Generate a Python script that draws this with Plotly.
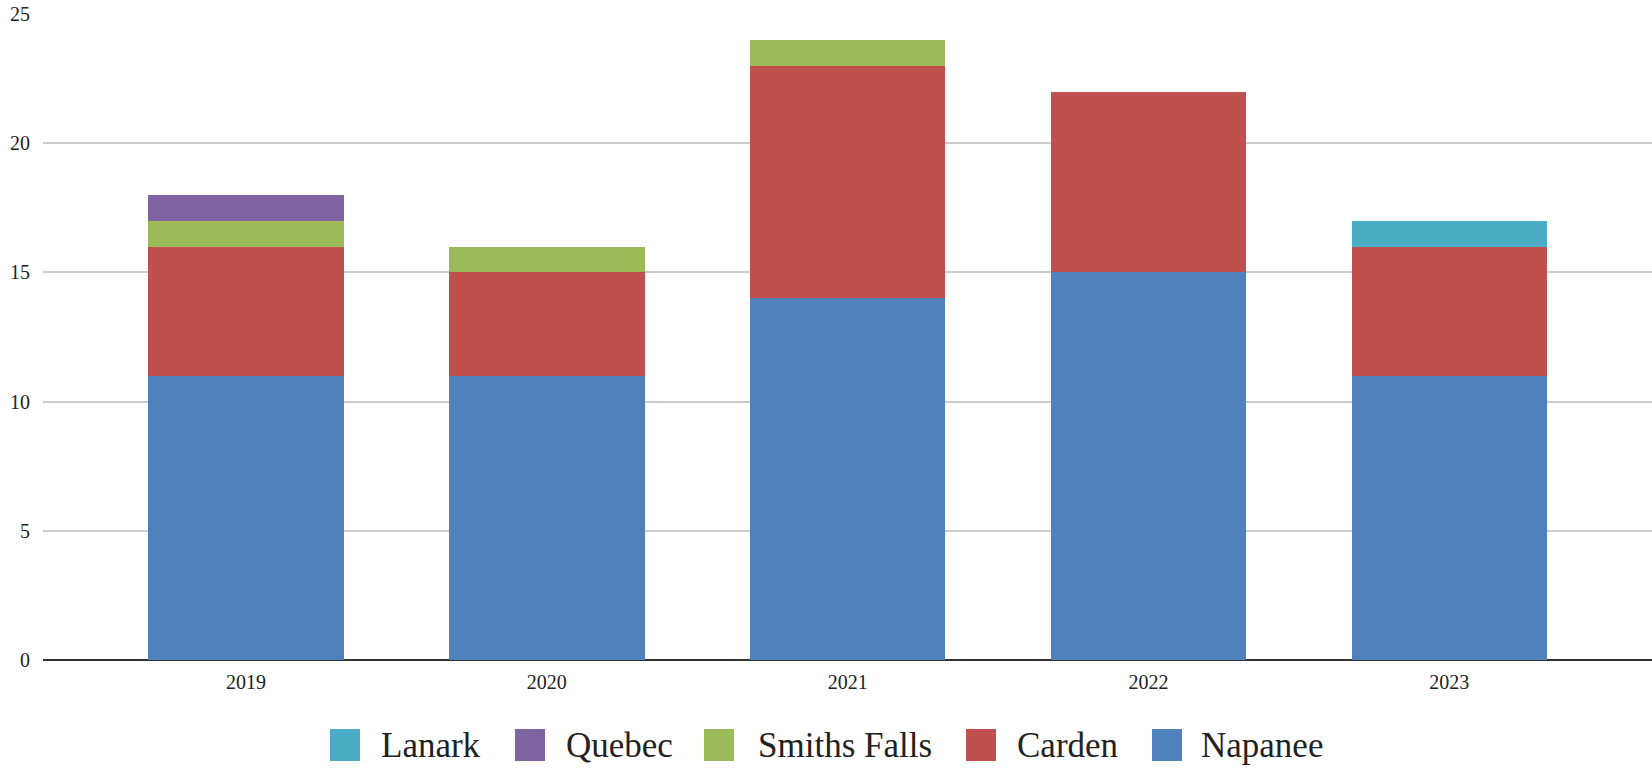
import plotly.graph_objects as go

years = ["2019", "2020", "2021", "2022", "2023"]
napanee = [11, 11, 14, 15, 11]
carden = [5, 4, 9, 7, 5]
smiths_falls = [1, 1, 1, 0, 0]
quebec = [1, 0, 0, 0, 0]
lanark = [0, 0, 0, 0, 1]

series = [
    ("Napanee", napanee, "#4F81BD"),
    ("Carden", carden, "#C0504D"),
    ("Smiths Falls", smiths_falls, "#9BBB59"),
    ("Quebec", quebec, "#8064A2"),
    ("Lanark", lanark, "#4BACC6"),
]

W, H = 1652, 769
L, R, T, B = 43, 0, 14, 109
pw, ph = W - L - R, H - T - B


def px(x):
    return (x - L) / pw


def py(y):
    return (H - B - y) / ph


fig = go.Figure()
for name, vals, col in series:
    fig.add_trace(go.Bar(x=years, y=vals, name=name, marker=dict(color=col, line=dict(width=0)),
                         width=0.65))

# legend drawn by hand (big swatches)
legend_items = [
    ("Lanark", "#4BACC6", 330, 379),
    ("Quebec", "#8064A2", 515, 564),
    ("Smiths Falls", "#9BBB59", 704, 756),
    ("Carden", "#C0504D", 966, 1015),
    ("Napanee", "#4F81BD", 1152, 1199),
]
shapes = []
annotations = []
for name, col, sx, tx in legend_items:
    shapes.append(dict(type="rect", xref="paper", yref="paper",
                       x0=px(sx), x1=px(sx + 30), y0=py(761), y1=py(729),
                       fillcolor=col, line=dict(width=0), layer="above"))
    annotations.append(dict(text=name, xref="paper", yref="paper", x=px(tx), y=py(745),
                            xanchor="left", yanchor="middle", showarrow=False,
                            font=dict(size=35, color="#222222", family="Liberation Serif")))

fig.update_layout(
    barmode="stack",
    width=W, height=H,
    margin=dict(l=L, r=R, t=T, b=B),
    plot_bgcolor="white", paper_bgcolor="white",
    showlegend=False,
    font=dict(family="Liberation Serif", size=20, color="#222222"),
    shapes=shapes,
    annotations=annotations,
)
fig.update_xaxes(range=[-0.675, 4.674], showgrid=False, showline=False, ticks="",
                 ticklabelstandoff=8, tickfont=dict(size=20, color="#222222"))
fig.update_yaxes(range=[0, 25], dtick=5, showgrid=True, gridcolor="#cccccc", gridwidth=2,
                 zeroline=True, zerolinecolor="#333333", zerolinewidth=2,
                 ticks="", ticklabelstandoff=12, tickfont=dict(size=20, color="#222222"))

fig.write_html("out.html", config={"displayModeBar": False},
               post_script="document.body.style.margin='0';")
